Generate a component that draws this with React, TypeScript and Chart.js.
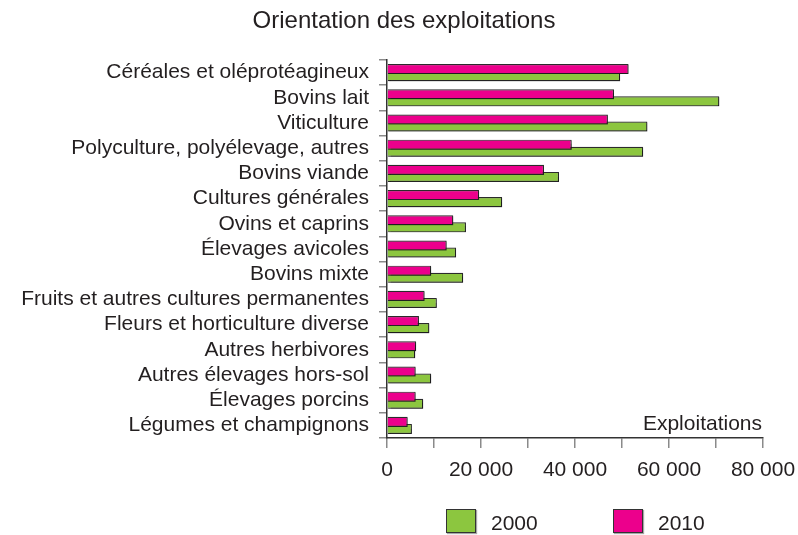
import React, { useEffect, useRef } from "react";
import { Chart, registerables } from "chart.js";

Chart.register(...registerables);

const categories = [
  "Céréales et oléprotéagineux",
  "Bovins lait",
  "Viticulture",
  "Polyculture, polyélevage, autres",
  "Bovins viande",
  "Cultures générales",
  "Ovins et caprins",
  "Élevages avicoles",
  "Bovins mixte",
  "Fruits et autres cultures permanentes",
  "Fleurs et horticulture diverse",
  "Autres herbivores",
  "Autres élevages hors-sol",
  "Élevages porcins",
  "Légumes et champignons",
];

const values2010 = [51400, 48300, 47000, 39300, 33400, 19600, 14100, 12700, 9400, 8000, 6800, 6200, 6100, 6100, 4400];
const values2000 = [49600, 70700, 55400, 54500, 36600, 24500, 16800, 14700, 16200, 10600, 9000, 6000, 9400, 7700, 5300];

const xTickLabels: Record<number, string> = { 0: "0", 20000: "20 000", 40000: "40 000", 60000: "60 000", 80000: "80 000" };

const TITLE = "Orientation des exploitations";
const UNIT = "Exploitations";

const GREEN = "#8cc63f";
const PINK = "#ec008c";
const FONT = "'Liberation Sans', Arial, sans-serif";
const TEXT = "#231f20";

const textPlugin = {
  id: "extraText",
  afterDatasetsDraw(chart: any) {
    const { ctx, chartArea } = chart;
    ctx.save();
    ctx.fillStyle = TEXT;
    ctx.textBaseline = "alphabetic";
    ctx.font = `21px ${FONT}`;
    ctx.textAlign = "right";
    ctx.fillText(UNIT, chartArea.right - 1, chartArea.bottom - 8);
    ctx.font = `24px ${FONT}`;
    ctx.textAlign = "center";
    ctx.fillText(TITLE, 404, 28);
    ctx.restore();
  },
};

const shadowPlugin = {
  id: "barShadow",
  beforeDatasetsDraw(chart: any) {
    const ctx = chart.ctx;
    ctx.save();
    ctx.shadowColor = "rgba(0,0,0,0.35)";
    ctx.shadowOffsetX = 1;
    ctx.shadowOffsetY = 1;
    ctx.shadowBlur = 1;
  },
  afterDatasetsDraw(chart: any) {
    chart.ctx.restore();
  },
};

export default function App() {
  const ref = useRef<HTMLCanvasElement | null>(null);

  useEffect(() => {
    if (!ref.current) return;
    const chart = new Chart(ref.current, {
      type: "bar",
      data: {
        labels: categories,
        datasets: [
          {
            label: "2010",
            data: values2010,
            backgroundColor: PINK,
            borderColor: "#2b2b2b",
            borderWidth: 1.2,
            categoryPercentage: 0.56,
            barPercentage: 1.43,
          },
          {
            label: "2000",
            data: values2000,
            backgroundColor: GREEN,
            borderColor: "#2b2b2b",
            borderWidth: 1.2,
            categoryPercentage: 0.56,
            barPercentage: 1.43,
          },
        ],
      },
      options: {
        indexAxis: "y",
        animation: false,
        responsive: false,
        maintainAspectRatio: false,
        layout: { padding: { left: 0, right: 35, top: 60, bottom: 47 } },
        plugins: {
          legend: { display: false },
          tooltip: { enabled: false },
          title: { display: false },
        },
        scales: {
          x: {
            min: 0,
            max: 80000,
            border: { display: true, color: "#333333", width: 1.5 },
            grid: {
              display: true,
              drawOnChartArea: false,
              drawTicks: true,
              tickLength: 10,
              color: "#8a8a8a",
              lineWidth: 1.5,
            },
            ticks: {
              stepSize: 10000,
              autoSkip: false,
              maxRotation: 0,
              padding: 10,
              color: TEXT,
              font: { family: FONT, size: 21 },
              callback: (v: any) => xTickLabels[Number(v)] ?? "",
            },
            afterFit: (scale: any) => {
              scale.height = 50;
              scale.paddingLeft = 0;
              scale.paddingRight = 0;
            },
          },
          y: {
            border: { display: true, color: "#333333", width: 1.5 },
            grid: {
              display: true,
              offset: true,
              drawOnChartArea: false,
              drawTicks: true,
              tickLength: 8,
              color: "#8a8a8a",
              lineWidth: 1.5,
            },
            ticks: {
              autoSkip: false,
              padding: 10,
              color: TEXT,
              font: { family: FONT, size: 21 },
            },
            afterFit: (scale: any) => {
              scale.width = 387;
              scale.paddingTop = 0;
              scale.paddingBottom = 0;
            },
          },
        },
      },
      plugins: [shadowPlugin, textPlugin],
    });
    return () => chart.destroy();
  }, []);

  const legendItem = (color: string, text: string, left: number) => (
    <div style={{ position: "absolute", left, top: 509, height: 24, display: "flex", alignItems: "center" }}>
      <div style={{ width: 28, height: 22, background: color, border: "1px solid #333", boxShadow: "1px 1px 1px rgba(0,0,0,0.35)" }} />
      <span style={{ marginLeft: 15, fontFamily: FONT, fontSize: 21, color: TEXT, lineHeight: "24px", marginTop: 4 }}>{text}</span>
    </div>
  );

  return (
    <div style={{ position: "absolute", left: 0, top: 0, width: 798, height: 535, background: "#fff" }}>
      <canvas ref={ref} width={798} height={535} style={{ display: "block" }} />
      {legendItem(GREEN, "2000", 446)}
      {legendItem(PINK, "2010", 613)}
    </div>
  );
}
